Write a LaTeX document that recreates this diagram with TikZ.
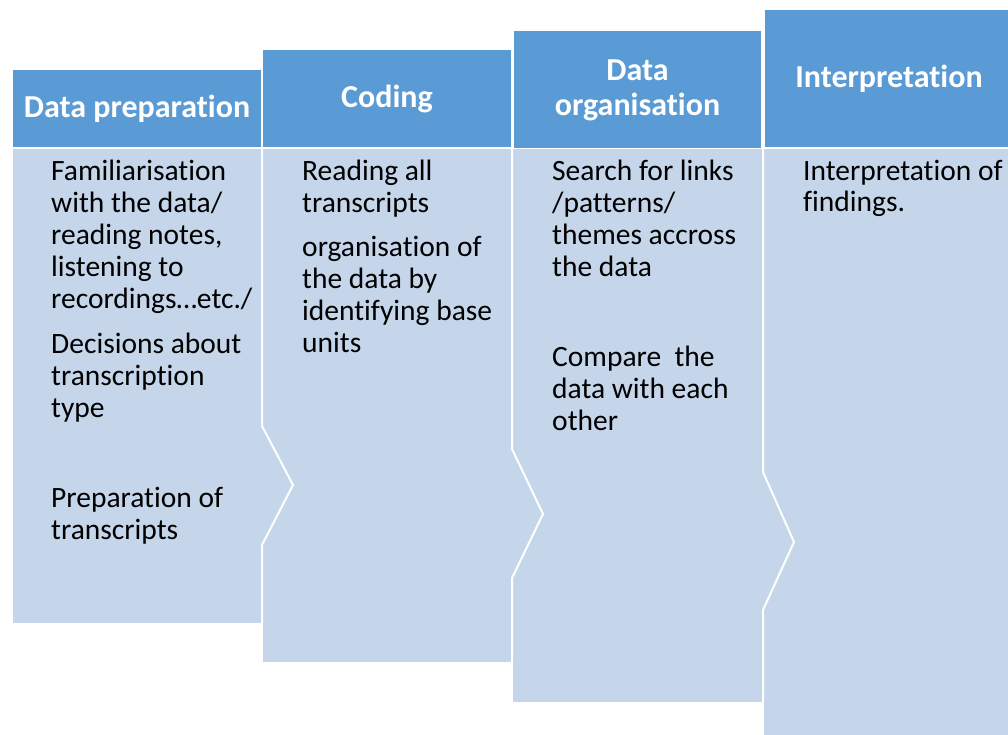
\documentclass[tikz,border=0pt]{standalone}
\usepackage{fontspec}
\setmainfont{Carlito}[Ligatures=NoCommon]
\usepackage{xcolor}
\definecolor{hdrblue}{HTML}{5B9BD5}
\definecolor{bodyblue}{HTML}{C5D5EA}
\tikzset{
  hdr/.style={fill=hdrblue, text=white, align=center, inner sep=0pt,
    font=\fontsize{32}{35}\selectfont\bfseries},
  bodytxt/.style={anchor=base west, align=left, inner sep=0pt,
    font=\fontsize{29.5}{32}\selectfont},
  sep/.style={draw=white, line width=2pt},
}

\begin{document}
\begin{tikzpicture}[x=1pt, y=-1pt]
                    \useasboundingbox (0,0) rectangle (1008,735);
                    \clip (0,0) rectangle (1008,735);

                    % column bodies
                    \fill[bodyblue] (13,149) rectangle (263,623);
                    \fill[bodyblue] (263,149) rectangle (513,662);
                    \fill[bodyblue] (513,149) rectangle (764,702);
                    \fill[bodyblue] (764,149) rectangle (1013,740);

                    % white chevron gaps
                    \draw[sep] (262,147) -- (262,426) -- (293,485) -- (262,545) -- (262,623);
                    \draw[sep] (512,147) -- (512,449) -- (543,514) -- (512,578) -- (512,662);
                    \draw[sep] (763,147) -- (763,472) -- (794,542) -- (763,610) -- (763,702);

                    % headers
                    \node[hdr, minimum width=248pt, minimum height=77pt] (H1) at (137,108.5) {Data preparation};
                    \node[hdr, minimum width=248pt, minimum height=97pt] (H2) at (387,98.5) {Coding};
                    \node[hdr, minimum width=247pt, minimum height=117pt] (H3) at (637.5,90) {Data\\organisation};
                    \node[hdr, minimum width=248pt, minimum height=137pt] (H4) at (889,78.5) {Interpretation};

                    % body texts (placed by the baseline of their last line)
                    \node[bodytxt] (T1) at (51,539) {Familiarisation\\with the data/\\reading notes,\\listening to\\recordings…etc./\\[13pt]Decisions about\\transcription\\type\\[58pt]Preparation of\\transcripts};
                    \node[bodytxt] (T2) at (302,352) {Reading all\\transcripts\\[12pt]organisation of\\the data by\\identifying base\\units};
                    \node[bodytxt] (T3) at (552,430) {Search for links\\/patterns/\\themes accross\\the data\\[58pt]Compare~~the\\data with each\\other};
                    \node[bodytxt] (T4) at (803,212) {Interpretation of\\findings.};
                \end{tikzpicture}
\end{document}
